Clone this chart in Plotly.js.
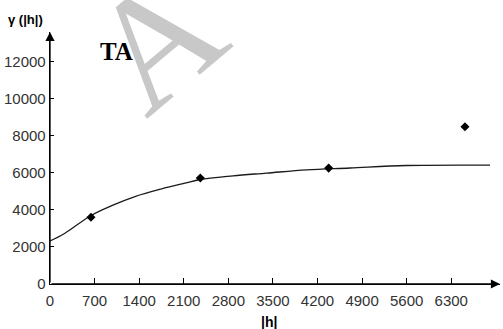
<!DOCTYPE html>
<html>
<head>
<meta charset="utf-8">
<script src="https://cdn.plot.ly/plotly-3.0.1.min.js"></script>
<style>html,body{margin:0;padding:0;background:#fff;}#chart{width:503px;height:329px;}</style>
</head>
<body>
<div id="chart"></div>
<script>
// Observed (experimental) semivariogram points
const lagObs = [643, 2360, 4375, 6515];
const gammaObs = [3600, 5720, 6254, 8490];

// Fitted model curve at sample lags
const lagFit = [0, 235, 644, 969, 1334, 1754, 2119, 2355, 2873, 3402, 4030, 4710, 5600, 6908];
const gammaFit = [2320, 2740, 3700, 4230, 4720, 5135, 5440, 5640, 5840, 5985, 6160, 6260, 6395, 6416];

const xTicks = [0, 700, 1400, 2100, 2800, 3500, 4200, 4900, 5600, 6300];
const yTicks = [0, 2000, 4000, 6000, 8000, 10000, 12000];

const xMax = 7065, yMax = 13600;
const tickFont = {family: '"Liberation Sans Narrow", "Arial Narrow", Arial, sans-serif', size: 15, color: '#333'};

const traces = [
  {x: lagFit, y: gammaFit, mode: 'lines', type: 'scatter', line: {color: '#1a1a1a', width: 1.3, shape: 'spline', smoothing: 1}, hoverinfo: 'skip'},
  {x: lagObs, y: gammaObs, mode: 'markers', type: 'scatter', marker: {symbol: 'diamond', size: 7, color: '#000'}}
];

const layout = {
  width: 503, height: 329,
  margin: {l: 50, r: 3, t: 32, b: 45},
  paper_bgcolor: '#fff', plot_bgcolor: '#fff',
  showlegend: false,
  xaxis: {range: [0, xMax], tickvals: xTicks, ticktext: xTicks.map(String), showgrid: false, zeroline: false,
          showline: true, linecolor: '#000', linewidth: 1.3, ticks: 'inside', ticklen: 6, tickcolor: '#000', tickwidth: 1,
          tickfont: tickFont, ticklabelstandoff: 3, fixedrange: true},
  yaxis: {range: [0, yMax], tickvals: yTicks, ticktext: yTicks.map(String), showgrid: false, zeroline: false,
          showline: true, linecolor: '#000', linewidth: 1.3, ticks: 'inside', ticklen: 4, tickcolor: '#000', tickwidth: 1,
          tickfont: tickFont, fixedrange: true},
  annotations: [
    {xref: 'paper', yref: 'paper', x: 0.236, y: 0.963, xanchor: 'center', yanchor: 'middle', showarrow: false, textangle: -40,
     text: 'A', font: {family: '"Liberation Serif", "Times New Roman", serif', size: 160, color: '#c8c8c8'}},
    {x: 0, y: yMax, ax: 0, ay: 0, xref: 'x', yref: 'y', axref: 'x', ayref: 'y', showarrow: true, arrowhead: 2, arrowsize: 1.4, arrowwidth: 1.3, arrowcolor: '#000', text: ''},
    {x: xMax, y: 0, ax: 0, ay: 0, xref: 'x', yref: 'y', axref: 'x', ayref: 'y', showarrow: true, arrowhead: 2, arrowsize: 1.4, arrowwidth: 1.3, arrowcolor: '#000', text: ''},
    {xref: 'paper', yref: 'paper', x: -0.055, y: 1.05, xanchor: 'center', yanchor: 'middle', showarrow: false,
     text: '<b>γ (|h|)</b>', font: {family: 'Arial, "Liberation Sans", sans-serif', size: 13, color: '#000'}},
    {xref: 'paper', yref: 'paper', x: 0.147, y: 0.924, xanchor: 'center', yanchor: 'middle', showarrow: false,
     text: '<b>TA</b>', font: {family: '"Liberation Serif", "Times New Roman", serif', size: 25, color: '#000'}},
    {xref: 'paper', yref: 'paper', x: 0.487, y: -0.152, xanchor: 'center', yanchor: 'middle', showarrow: false,
     text: '<b>|h|</b>', font: {family: 'Arial, "Liberation Sans", sans-serif', size: 14, color: '#000'}}
  ]
};

Plotly.newPlot('chart', traces, layout, {displayModeBar: false, staticPlot: true});
</script>
</body>
</html>
